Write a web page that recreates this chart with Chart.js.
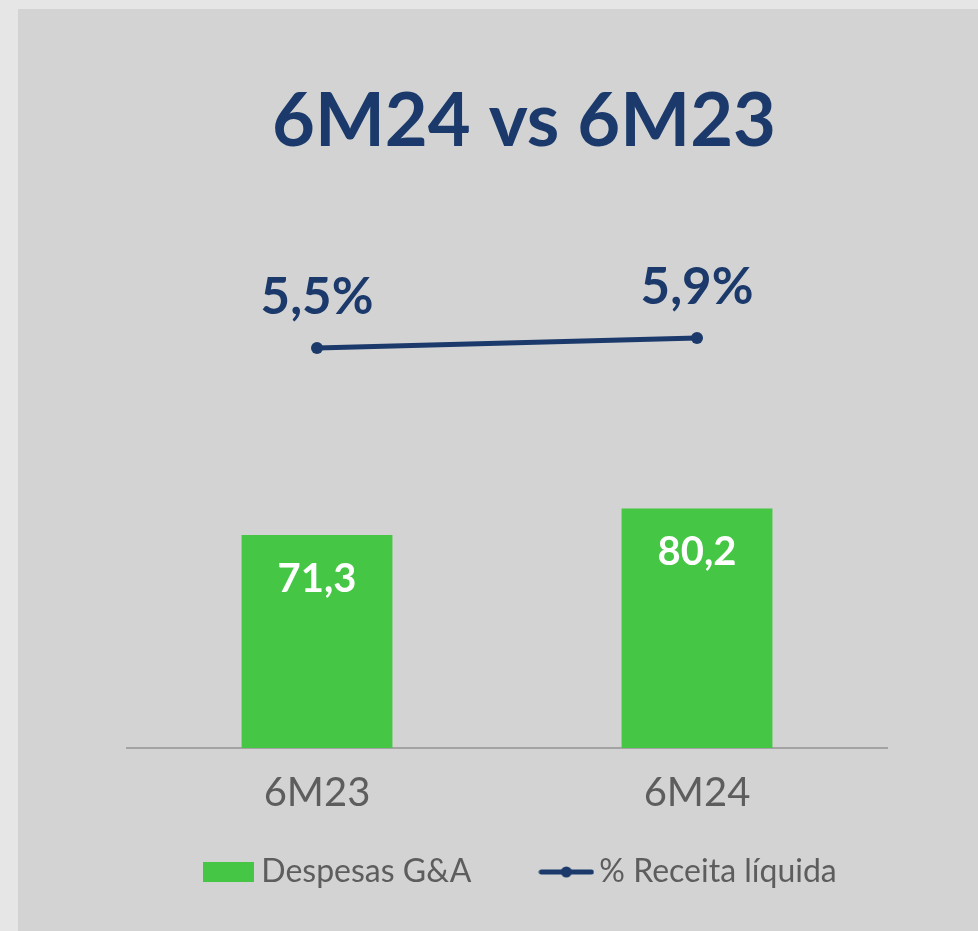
<!DOCTYPE html>
<html lang="pt-BR">
<head>
<meta charset="utf-8">
<title>6M24 vs 6M23</title>
<script src="https://cdn.jsdelivr.net/npm/chart.js@4.4.1/dist/chart.umd.min.js"></script>
<style>
	html, body {
		margin: 0;
		padding: 0;
		background: #e6e6e6;
		width: 978px;
		height: 931px;
		overflow: hidden;
	}
	#painel {
		position: absolute;
		left: 18px;
		top: 9px;
		right: 0;
		bottom: 0;
		background: #d3d3d3;
	}
	#grafico {
		position: absolute;
		left: 0;
		top: 0;
	}
</style>
</head>
<body>
<div id="painel"></div>
<canvas id="grafico" width="978" height="931"></canvas>

<script>
// Dados do gráfico
var categorias = ["6M23", "6M24"];
var despesasGA = [71.3, 80.2];
var receitaLiquida = [5.5, 5.9];
var nomeBarras = "Despesas G&A";
var nomeLinha = "% Receita líquida";
var titulo = "6M24 vs 6M23";

var verde = "#45c645";
var azul = "#1b3a6b";
var cinzaTexto = "#5d5d5d";

function formatar(valor) {
	return valor.toFixed(1).replace(".", ",");
}

// Ícones da legenda
var iconeBarra = document.createElement("canvas");
iconeBarra.width = 51;
iconeBarra.height = 20;
var c1 = iconeBarra.getContext("2d");
c1.fillStyle = verde;
c1.fillRect(0, 0, 51, 20);

var iconeLinha = document.createElement("canvas");
iconeLinha.width = 56;
iconeLinha.height = 20;
var c2 = iconeLinha.getContext("2d");
c2.strokeStyle = azul;
c2.lineWidth = 5;
c2.lineCap = "round";
c2.beginPath();
c2.moveTo(3, 10);
c2.lineTo(53, 10);
c2.stroke();
c2.fillStyle = azul;
c2.beginPath();
c2.arc(28, 10, 5.5, 0, Math.PI * 2);
c2.fill();

// Rótulos de valores (barras e linha)
var pluginRotulos = {
	id: "rotulos",
	afterDatasetsDraw: function (chart) {
		var ctx = chart.ctx;
		ctx.save();
		ctx.textAlign = "center";
		ctx.textBaseline = "alphabetic";

		var barras = chart.getDatasetMeta(0).data;
		ctx.font = "bold 40px Lato";
		ctx.fillStyle = "#ffffff";
		for (var i = 0; i < barras.length; i++) {
			ctx.fillText(formatar(despesasGA[i]), barras[i].x, barras[i].y + 57);
		}

		var pontos = chart.getDatasetMeta(1).data;
		ctx.font = "bold 51px Lato";
		ctx.fillStyle = azul;
		for (var i = 0; i < pontos.length; i++) {
			ctx.fillText(formatar(receitaLiquida[i]) + "%", pontos[i].x, pontos[i].y - 34);
		}
		ctx.restore();
	},
};

var espacoLegenda = 78;

var grafico = new Chart(document.getElementById("grafico"), {
	type: "bar",
	data: {
		labels: categorias,
		datasets: [
			{
				label: nomeBarras,
				data: despesasGA,
				backgroundColor: verde,
				borderWidth: 0,
				categoryPercentage: 1,
				barPercentage: 0.397,
				yAxisID: "y",
			},
			{
				type: "line",
				label: nomeLinha,
				data: receitaLiquida,
				borderColor: azul,
				backgroundColor: azul,
				borderWidth: 5,
				pointRadius: 6,
				pointBackgroundColor: azul,
				pointBorderWidth: 0,
				yAxisID: "y1",
			},
		],
	},
	options: {
		responsive: false,
		animation: false,
		layout: {
			padding: { left: 127, right: 57, top: 0, bottom: 33 },
		},
		plugins: {
			tooltip: { enabled: false },
			title: {
				display: true,
				text: titulo,
				color: azul,
				font: { family: "Lato", size: 74, weight: "bold", lineHeight: 1 },
				padding: { top: 85, bottom: 41 },
			},
			legend: {
				position: "bottom",
				labels: {
					usePointStyle: true,
					pointStyleWidth: 34,
					boxHeight: 20,
					padding: espacoLegenda,
					color: cinzaTexto,
					font: { family: "Lato", size: 32 },
					generateLabels: function () {
						return [
							{
								text: nomeBarras,
								pointStyle: iconeBarra,
								fillStyle: verde,
								strokeStyle: verde,
								lineWidth: 0,
								fontColor: cinzaTexto,
								hidden: false,
								datasetIndex: 0,
							},
							{
								text: nomeLinha,
								pointStyle: iconeLinha,
								fillStyle: azul,
								strokeStyle: azul,
								lineWidth: 0,
								fontColor: cinzaTexto,
								hidden: false,
								datasetIndex: 1,
							},
						];
					},
				},
			},
		},
		scales: {
			x: {
				offset: true,
				grid: { display: false, drawTicks: false },
				border: { display: true, color: "#a3a3a3", width: 2 },
				ticks: {
					color: cinzaTexto,
					// mirror + padding negativo: rótulos abaixo do eixo sem recorte
					mirror: true,
					padding: -69,
					font: { family: "Lato", size: 40 },
				},
				afterFit: function (eixo) {
					eixo.height = 108 - espacoLegenda;
				},
			},
			y: {
				display: false,
				min: 0,
				max: 183.5,
			},
			y1: {
				position: "right",
				min: -10.5,
				max: 11.42,
				grid: { display: false, drawTicks: false },
				border: { display: false },
				ticks: { display: false },
				afterFit: function (eixo) {
					eixo.width = 34;
				},
			},
		},
	},
	plugins: [pluginRotulos],
});
</script>
</body>
</html>
